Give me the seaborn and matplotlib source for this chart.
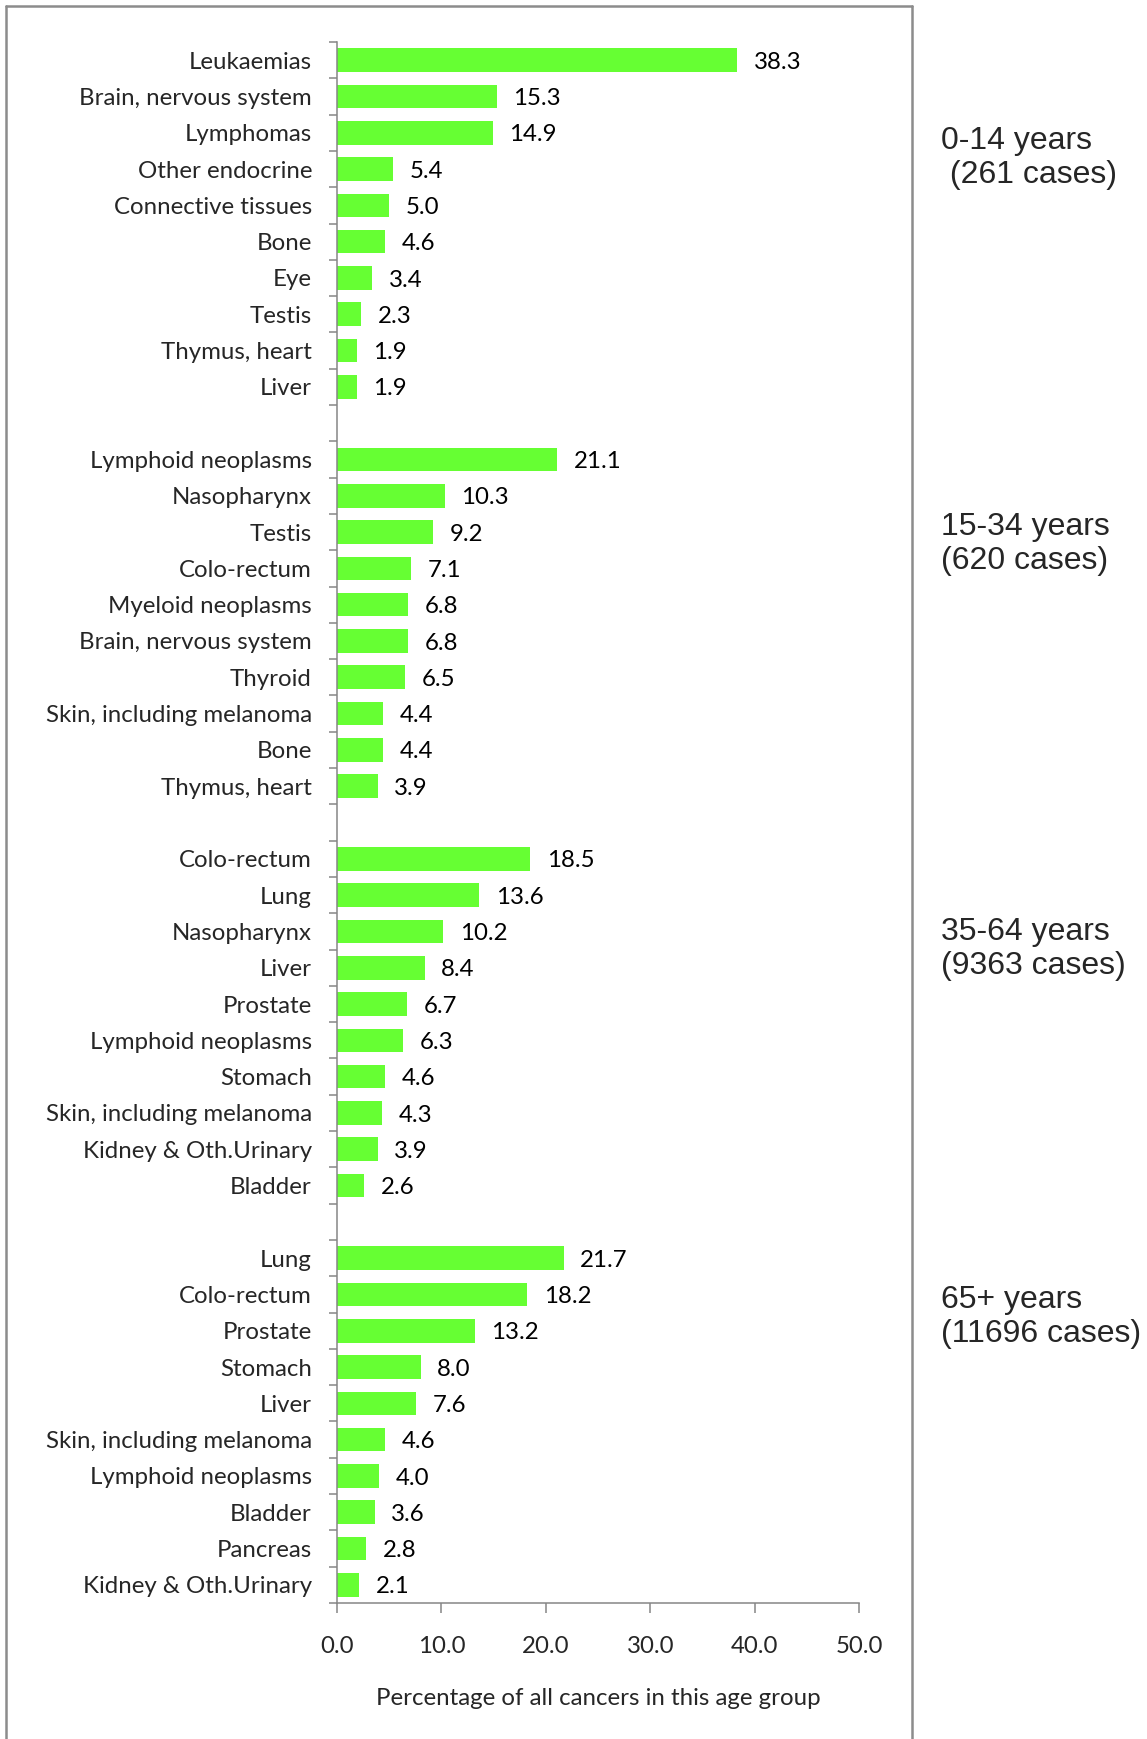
import matplotlib
matplotlib.use("Agg")
import matplotlib.pyplot as plt
import seaborn as sns
import pandas as pd
from matplotlib.lines import Line2D

# ---- data ----
group_labels = ["0-14 years\n (261 cases)", "15-34 years\n(620 cases)",
                "35-64 years\n(9363 cases)", "65+ years\n(11696 cases)"]

cats_0_14 = ["Leukaemias", "Brain, nervous system", "Lymphomas", "Other endocrine",
             "Connective tissues", "Bone", "Eye", "Testis", "Thymus, heart", "Liver"]
vals_0_14 = [38.3, 15.3, 14.9, 5.4, 5.0, 4.6, 3.4, 2.3, 1.9, 1.9]

cats_15_34 = ["Lymphoid neoplasms", "Nasopharynx", "Testis", "Colo-rectum",
              "Myeloid neoplasms", "Brain, nervous system", "Thyroid",
              "Skin, including melanoma", "Bone", "Thymus, heart"]
vals_15_34 = [21.1, 10.3, 9.2, 7.1, 6.8, 6.8, 6.5, 4.4, 4.4, 3.9]

cats_35_64 = ["Colo-rectum", "Lung", "Nasopharynx", "Liver", "Prostate",
              "Lymphoid neoplasms", "Stomach", "Skin, including melanoma",
              "Kidney & Oth.Urinary", "Bladder"]
vals_35_64 = [18.5, 13.6, 10.2, 8.4, 6.7, 6.3, 4.6, 4.3, 3.9, 2.6]

cats_65 = ["Lung", "Colo-rectum", "Prostate", "Stomach", "Liver",
           "Skin, including melanoma", "Lymphoid neoplasms", "Bladder",
           "Pancreas", "Kidney & Oth.Urinary"]
vals_65 = [21.7, 18.2, 13.2, 8.0, 7.6, 4.6, 4.0, 3.6, 2.8, 2.1]

x_ticks = [0, 10, 20, 30, 40, 50]
x_label = "Percentage of all cancers in this age group"

# ---- build table ----
groups = [(cats_0_14, vals_0_14), (cats_15_34, vals_15_34),
          (cats_35_64, vals_35_64), (cats_65, vals_65)]
rows = []
order = []
tick_labels = []
for gi, (cats, vals) in enumerate(groups):
    if gi > 0:
        gap = f"gap{gi}"
        order.append(gap)
        tick_labels.append("")
    for c, v in zip(cats, vals):
        key = f"g{gi}|{c}"
        rows.append({"key": key, "value": v})
        order.append(key)
        tick_labels.append(c)
df = pd.DataFrame(rows)

# ---- plot ----
sns.set_style("white")
plt.rcParams["font.family"] = ["Lato", "DejaVu Sans"]

FS = 17.3
W, H = 1147, 1739
fig = plt.figure(figsize=(W / 100, H / 100), dpi=100)
ax = fig.add_axes([337 / W, 1 - 1603 / H, (859 - 337) / W, (1603 - 42) / H])

sns.barplot(data=df, x="value", y="key", order=order, color="#66FF33",
            orient="h", width=0.65, saturation=1, ax=ax, errorbar=None,
            edgecolor="none")

ax.set_xlim(0, 50)
ax.set_ylim(len(order) - 0.5, -0.5)
ax.set_xticks(x_ticks)
ax.set_xticklabels([f"{t:.1f}" for t in x_ticks], fontsize=FS)
ax.set_yticks(range(len(order)))
ax.set_yticklabels(tick_labels, fontsize=FS)
ax.set_yticks([i - 0.5 for i in range(len(order) + 1)], minor=True)
ax.tick_params(axis="y", which="major", left=True, length=0, pad=18)
ax.tick_params(axis="y", which="minor", left=True, length=6, width=1.1,
               color="#868686")
ax.tick_params(axis="x", which="major", bottom=True, length=7, width=1.1,
               color="#868686", pad=17)
ax.set_xlabel(x_label, fontsize=FS, labelpad=22)
ax.set_ylabel("")

for s in ["top", "right"]:
    ax.spines[s].set_visible(False)
for s in ["left", "bottom"]:
    ax.spines[s].set_color("#868686")
    ax.spines[s].set_linewidth(1.1)

# value labels at the bar ends
for cont in ax.containers:
    for patch in cont:
        w = patch.get_width()
        yc = patch.get_y() + patch.get_height() / 2
        ax.annotate(f"{w:.1f}", xy=(w, yc), xytext=(12, -1.5),
                    textcoords="offset points", ha="left", va="center",
                    fontsize=FS, color="black")

# group labels
label_y = [158, 544, 949, 1317]
for lbl, yy in zip(group_labels, label_y):
    fig.text(941 / W, 1 - yy / H, lbl, fontsize=23, ha="left", va="center",
             family=["Liberation Sans", "DejaVu Sans"], linespacing=1.15)

# outer border (left, top, right)
bc = "#8c8c8c"
for (x0, y0, x1, y1) in [(6, 6, 6, H + 5), (6, 6, 912, 6), (912, 6, 912, H + 5)]:
    fig.add_artist(Line2D([x0 / W, x1 / W], [1 - y0 / H, 1 - y1 / H],
                          color=bc, lw=1.8, transform=fig.transFigure))

fig.savefig("out.png", dpi=100)
